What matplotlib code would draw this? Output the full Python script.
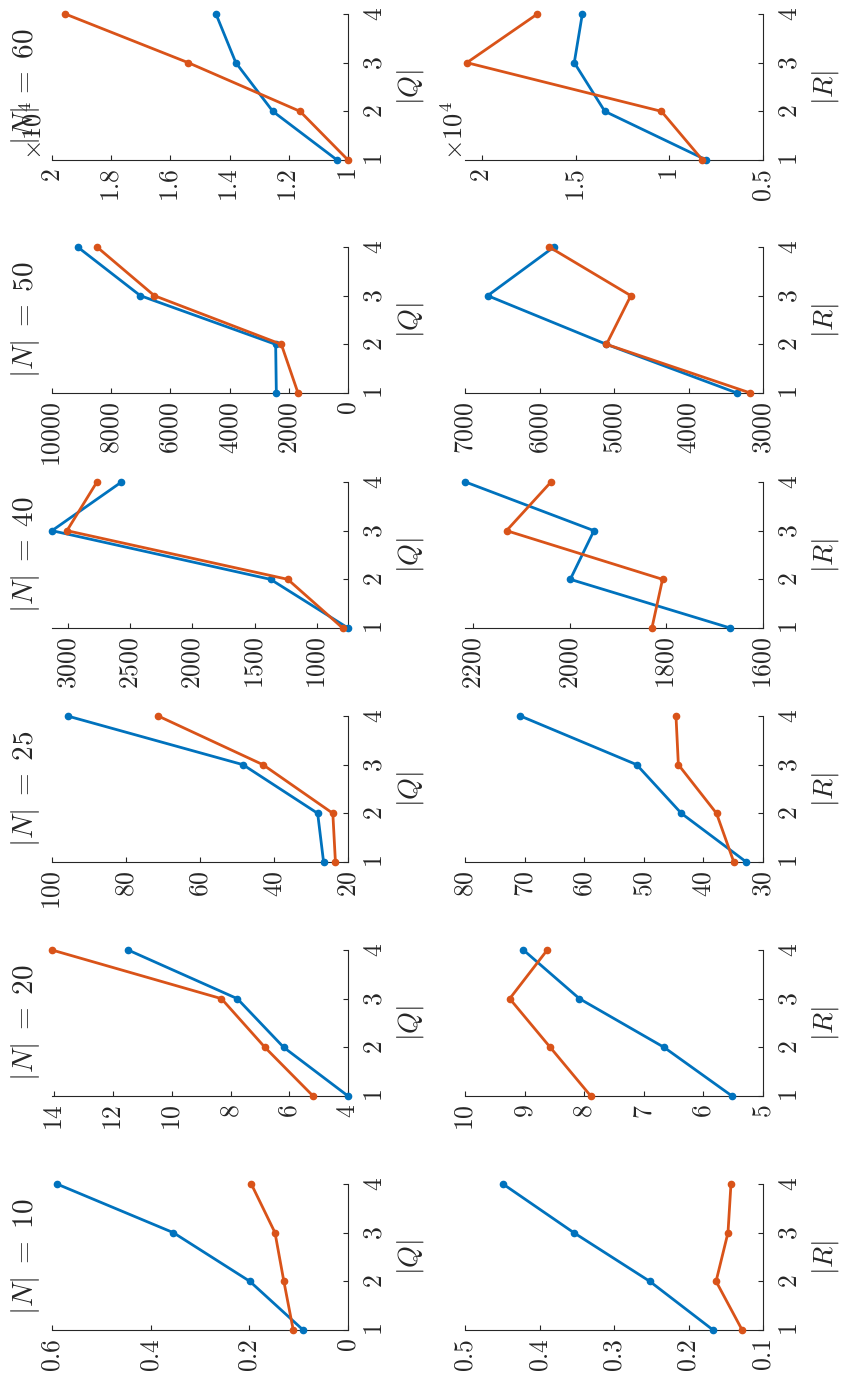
import matplotlib
matplotlib.use("Agg")
import matplotlib.pyplot as plt
from matplotlib.ticker import FuncFormatter, FixedLocator

plt.rcParams['mathtext.fontset'] = 'cm'
plt.rcParams['font.family'] = ['DejaVu Serif']

# ---------------- data ----------------
N_values = [10, 20, 25, 40, 50, 60]
steps = [1, 2, 3, 4]

Q_blue = {
    10: [0.091, 0.199, 0.354, 0.590],
    20: [4.0, 6.19, 7.77, 11.49],
    25: [26.6, 28.2, 48.4, 95.8],
    40: [752, 1373, 3125, 2568],
    50: [2421, 2444, 7016, 9133],
    60: [10370, 12540, 13790, 14460],
}
Q_orange = {
    10: [0.111, 0.130, 0.148, 0.196],
    20: [5.19, 6.83, 8.31, 14.08],
    25: [23.4, 24.1, 43.0, 71.3],
    40: [795, 1235, 3005, 2765],
    50: [1689, 2252, 6543, 8480],
    60: [10000, 11620, 15400, 19550],
}
R_blue = {
    10: [0.167, 0.252, 0.354, 0.449],
    20: [5.52, 6.66, 8.08, 9.02],
    25: [32.8, 43.7, 51.2, 70.7],
    40: [1668, 1999, 1950, 2216],
    50: [3349, 5101, 6696, 5807],
    60: [8020, 13440, 15070, 14640],
}
R_orange = {
    10: [0.128, 0.163, 0.147, 0.143],
    20: [7.89, 8.57, 9.25, 8.62],
    25: [34.9, 37.8, 44.2, 44.6],
    40: [1830, 1808, 2131, 2039],
    50: [3170, 5101, 4774, 5869],
    60: [8230, 10420, 20800, 17040],
}

# value-axis ticks / limits (in plotted units)
Q_ticks = {
    10: [0, 0.2, 0.4, 0.6], 20: [4, 6, 8, 10, 12, 14], 25: [20, 40, 60, 80, 100],
    40: [1000, 1500, 2000, 2500, 3000], 50: [0, 2000, 4000, 6000, 8000, 10000],
    60: [1, 1.2, 1.4, 1.6, 1.8, 2],
}
Q_lims = {10: (0, 0.6), 20: (4, 14.08), 25: (20, 100), 40: (752, 3125),
          50: (0, 10000), 60: (1, 2)}
R_ticks = {
    10: [0.1, 0.2, 0.3, 0.4, 0.5], 20: [5, 6, 7, 8, 9, 10], 25: [30, 40, 50, 60, 70, 80],
    40: [1600, 1800, 2000, 2200], 50: [3000, 4000, 5000, 6000, 7000],
    60: [0.5, 1, 1.5, 2],
}
R_lims = {10: (0.1, 0.5), 20: (5, 10), 25: (30, 80), 40: (1600, 2217),
          50: (3000, 7000), 60: (0.5, 2.09)}
scale = {10: 1, 20: 1, 25: 1, 40: 1, 50: 1, 60: 1e4}

BLUE = '#0072BD'
ORANGE = '#D95319'
DARK = '#262626'

W, H = 841, 1384
fig = plt.figure(figsize=(W / 100, H / 100), dpi=100)

bottoms_px = [1330, 1096, 862, 628, 393, 160]
panel_h = 146
colQ = (52, 348)
colR = (465, 763)

fmt = FuncFormatter(lambda v, p: r'$%g$' % v)


def make_panel(left_px, right_px, bottom_px, blue, orange, ticks, lims, label, sc):
    ax = fig.add_axes([left_px / W, (H - bottom_px) / H,
                       (right_px - left_px) / W, panel_h / H])
    ax.plot([b / sc for b in blue], steps, '-o', color=BLUE, lw=2.0, ms=4.5,
            clip_on=False, zorder=3)
    ax.plot([o / sc for o in orange], steps, '-o', color=ORANGE, lw=2.0, ms=4.5,
            clip_on=False, zorder=4)
    ax.set_xlim(lims[1], lims[0])
    ax.set_ylim(1, 4)
    ax.xaxis.set_major_locator(FixedLocator(ticks))
    ax.xaxis.set_major_formatter(fmt)
    ax.yaxis.set_major_locator(FixedLocator(steps))
    ax.yaxis.set_major_formatter(fmt)
    for s in ['top', 'left']:
        ax.spines[s].set_visible(False)
    for s in ['bottom', 'right']:
        ax.spines[s].set_color(DARK)
        ax.spines[s].set_linewidth(0.8)
    ax.yaxis.tick_right()
    ax.tick_params(axis='x', direction='in', length=3.5, width=0.8, colors=DARK,
                   labelsize=18.5, pad=6, labelrotation=90)
    ax.tick_params(axis='y', direction='in', length=3.5, width=0.8, colors=DARK,
                   labelsize=18.5, pad=10, labelrotation=90)
    for t in ax.get_yticklabels():
        t.set_va('center')
    ax.yaxis.set_label_position('right')
    ax.set_ylabel(label, fontsize=20, rotation=90, color=DARK, labelpad=6)
    ax.patch.set_alpha(0)
    return ax


for i, n in enumerate(N_values):
    b = bottoms_px[i]
    axq = make_panel(colQ[0], colQ[1], b, Q_blue[n], Q_orange[n], Q_ticks[n],
                     Q_lims[n], r'$|Q|$', scale[n])
    axr = make_panel(colR[0], colR[1], b, R_blue[n], R_orange[n], R_ticks[n],
                     R_lims[n], r'$|R|$', scale[n])
    axq.text(-0.088, 0.5, r'$|N|\;=\;%d$' % n, transform=axq.transAxes,
             rotation=90, ha='center', va='center', fontsize=21, color=DARK)
    if scale[n] != 1:
        axq.text(-0.017, 0.0, r'$\times10^{4}$', transform=axq.transAxes,
                 rotation=90, ha='right', va='bottom', fontsize=19, color=DARK)
        axr.text(0.007, 0.0, r'$\times10^{4}$', transform=axr.transAxes,
                 rotation=90, ha='right', va='bottom', fontsize=19, color=DARK)

fig.savefig('out.png', dpi=100)
